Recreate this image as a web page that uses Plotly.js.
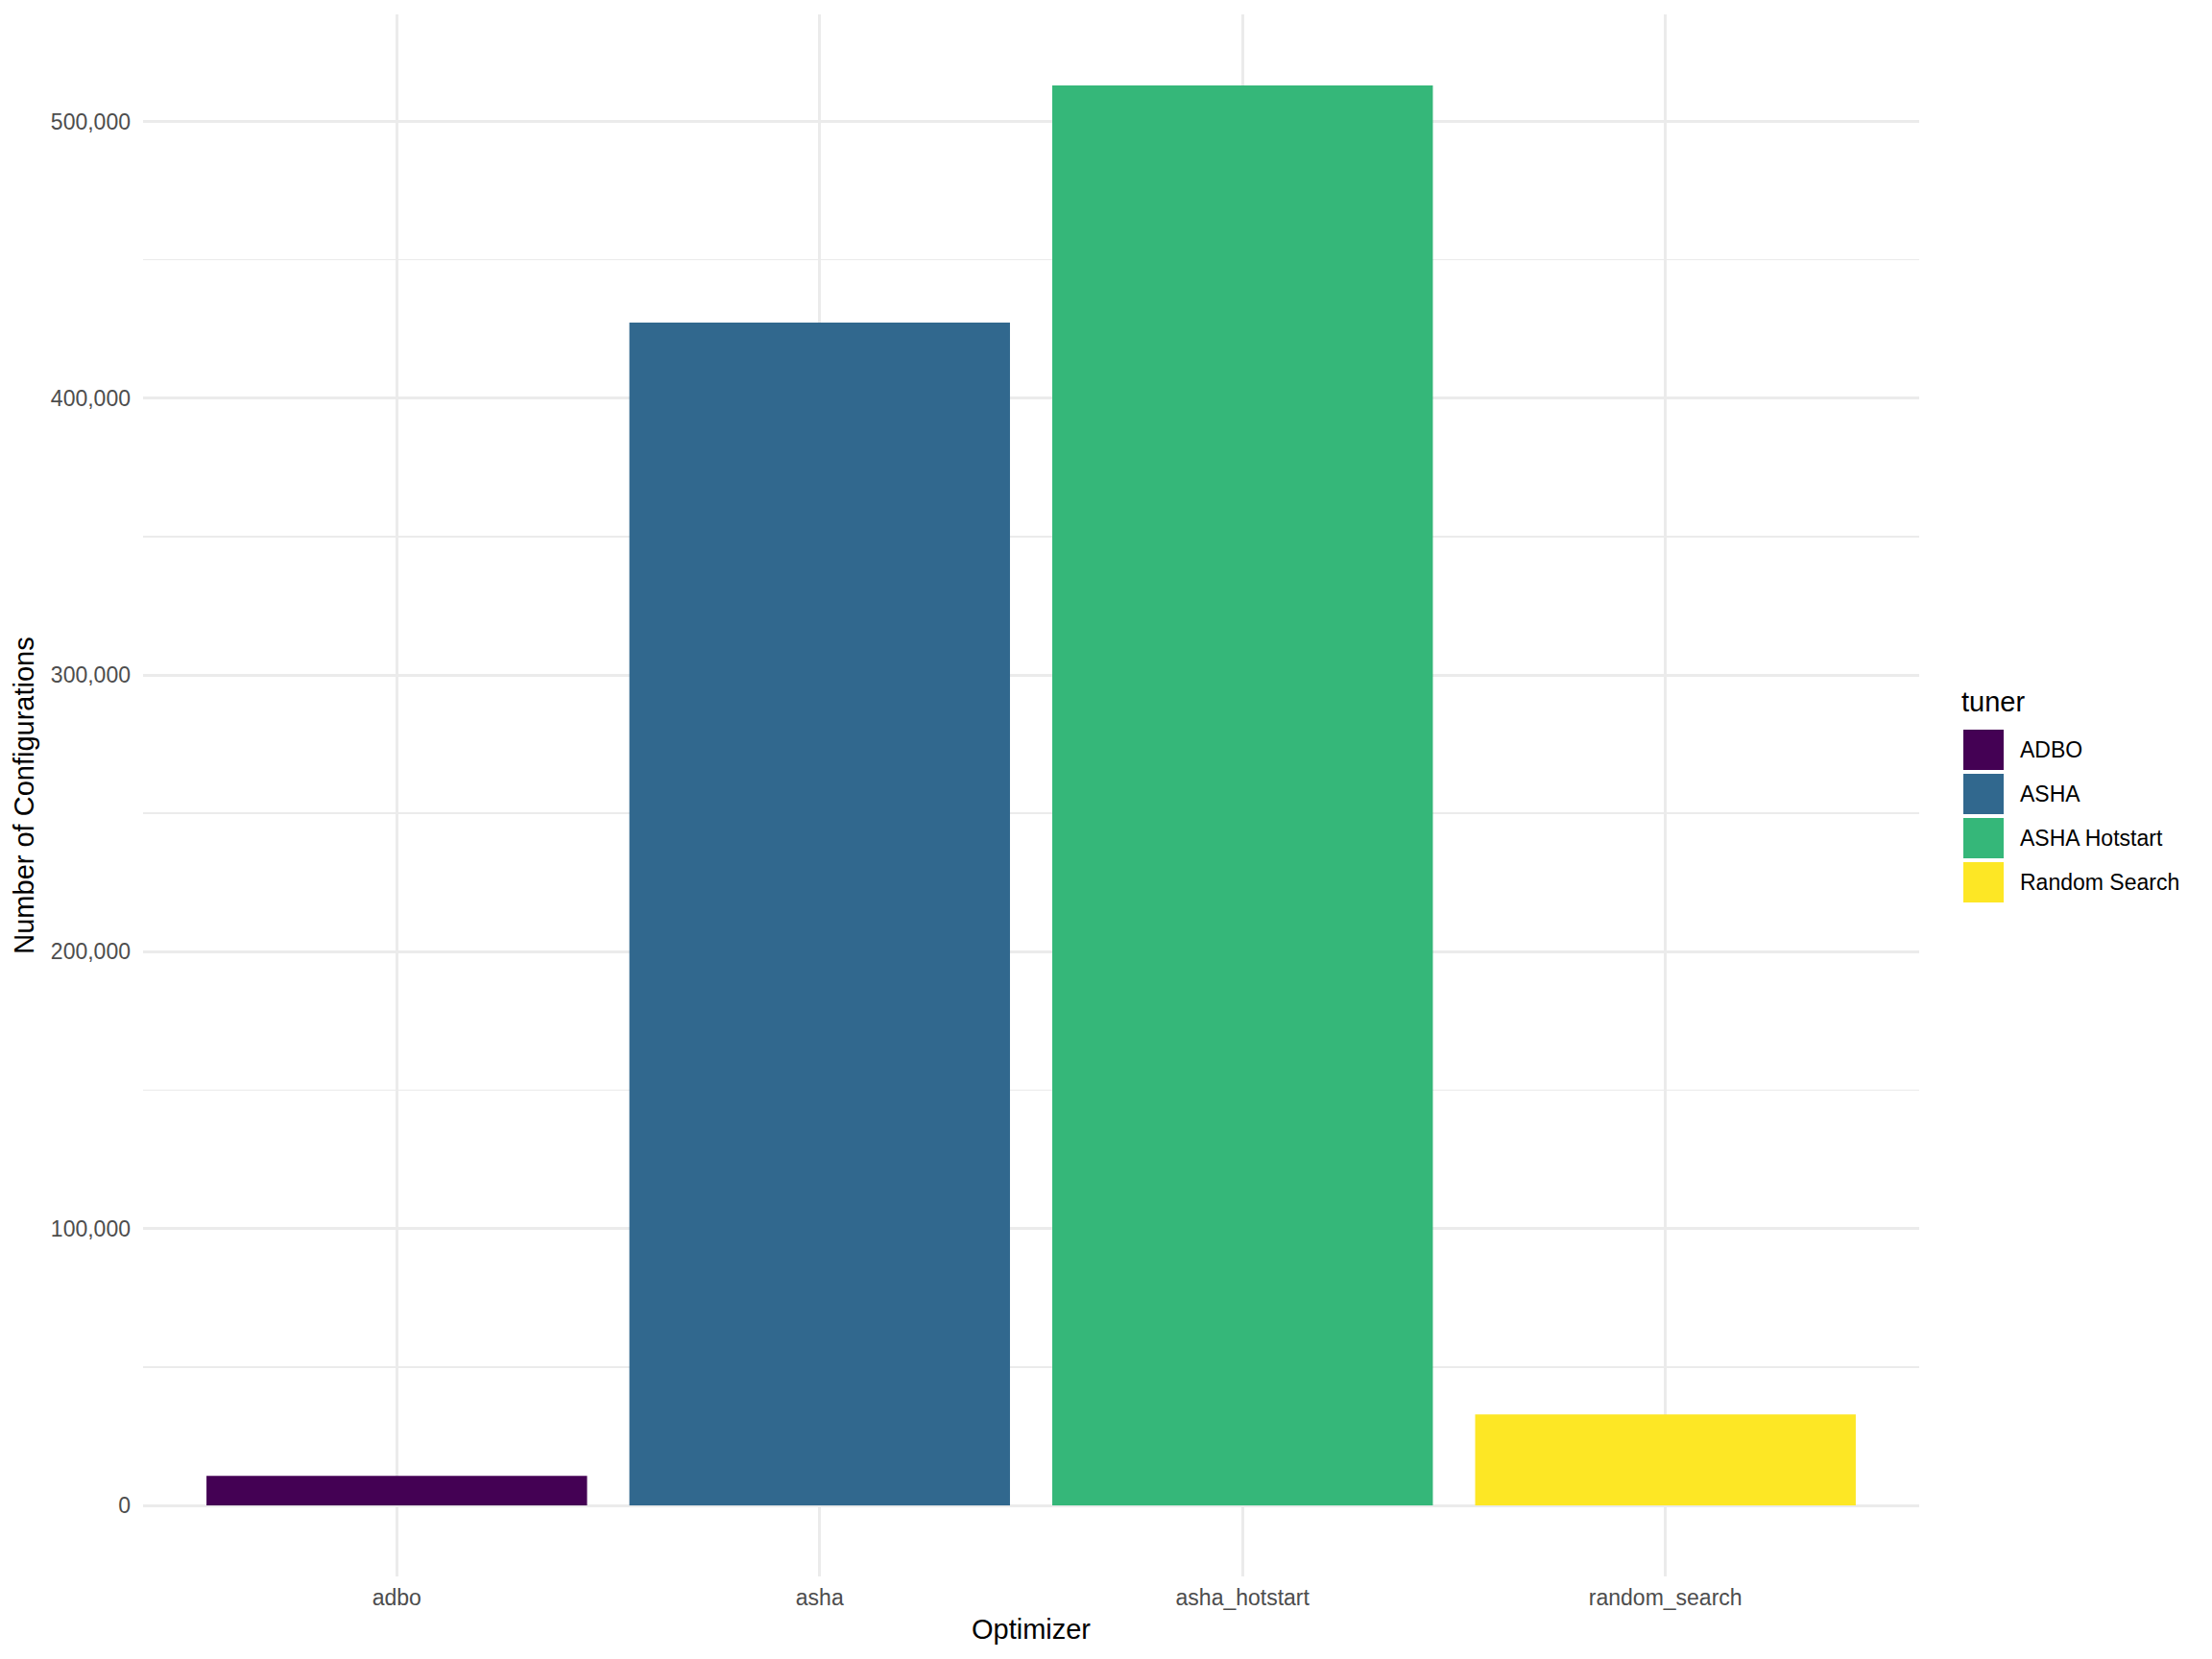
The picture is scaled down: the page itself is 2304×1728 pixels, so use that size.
<!DOCTYPE html>
<html>
<head>
<meta charset="utf-8">
<script src="https://cdn.plot.ly/plotly-3.0.1.min.js"></script>
<style>
  html, body { margin: 0; padding: 0; background: #ffffff; }
  #chart { width: 2304px; height: 1728px; }
</style>
</head>
<body>
<div id="chart"></div>
<script>
// ---- data ----
const optimizers = ["adbo", "asha", "asha_hotstart", "random_search"];
const tuners = ["ADBO", "ASHA", "ASHA Hotstart", "Random Search"];
const configCounts = [10650, 427300, 513000, 32890];
const tunerColors = ["#440154", "#31688E", "#35B779", "#FDE725"];

// ---- layout geometry (pixels) ----
const W = 2304, H = 1728;
const M = { l: 149, r: 305, t: 15, b: 86 };
const PW = W - M.l - M.r, PH = H - M.t - M.b;
const px2x = px => (px - M.l) / PW;
const px2y = py => (H - M.b - py) / PH;

const maxVal = Math.max(...configCounts);
const yPad = maxVal * 0.05;

const FONT = "Liberation Sans, Arial, Helvetica, sans-serif";

const trace = {
  type: "bar",
  x: optimizers,
  y: configCounts,
  text: tuners,
  marker: { color: tunerColors, line: { width: 0 } },
  width: 0.9,
  hoverinfo: "x+y+text",
  showlegend: false,
  textposition: "none"
};

// manual legend (ggplot-style large keys)
const shapes = [];
const annotations = [];
const keyX0 = 2045, keyX1 = 2087, keyTop = 760, keyH = 42, keyStep = 46;
tuners.forEach((name, i) => {
  const y0 = keyTop + i * keyStep;
  shapes.push({
    type: "rect", xref: "paper", yref: "paper",
    x0: px2x(keyX0), x1: px2x(keyX1),
    y0: px2y(y0 + keyH), y1: px2y(y0),
    fillcolor: tunerColors[i], line: { width: 0 }, layer: "above"
  });
  annotations.push({
    xref: "paper", yref: "paper",
    x: px2x(2102), y: px2y(y0 + keyH / 2),
    xanchor: "left", yanchor: "middle",
    text: name, showarrow: false,
    font: { family: FONT, size: 23, color: "#000000" }
  });
});
annotations.push({
  xref: "paper", yref: "paper",
  x: px2x(2041), y: px2y(731),
  xanchor: "left", yanchor: "middle",
  text: "tuner", showarrow: false,
  font: { family: FONT, size: 29, color: "#000000" }
});

const layout = {
  width: W, height: H,
  margin: M,
  paper_bgcolor: "#ffffff",
  plot_bgcolor: "#ffffff",
  font: { family: FONT },
  showlegend: false,
  bargap: 0.1,
  xaxis: {
    type: "category",
    categoryorder: "array",
    categoryarray: optimizers,
    range: [-0.6, optimizers.length - 1 + 0.6],
    showgrid: true,
    gridcolor: "#EBEBEB",
    gridwidth: 3,
    zeroline: false,
    showline: false,
    ticks: "",
    ticklabelstandoff: 6,
    tickfont: { family: FONT, size: 23, color: "#4D4D4D" },
    title: { text: "Optimizer", font: { family: FONT, size: 29, color: "#000000" }, standoff: 10 }
  },
  yaxis: {
    range: [-yPad, maxVal + yPad],
    dtick: 100000,
    tick0: 0,
    tickformat: ",d",
    showgrid: true,
    gridcolor: "#EBEBEB",
    gridwidth: 3,
    minor: { dtick: 50000, tick0: 0, showgrid: true, gridcolor: "#EBEBEB", gridwidth: 1.5, ticks: "" },
    zeroline: false,
    showline: false,
    ticks: "",
    ticklabelstandoff: 12,
    tickfont: { family: FONT, size: 23, color: "#4D4D4D" },
    title: { text: "Number of Configurations", font: { family: FONT, size: 29, color: "#000000" }, standoff: 8 }
  },
  shapes: shapes,
  annotations: annotations
};

Plotly.newPlot("chart", [trace], layout, { displayModeBar: false, staticPlot: true });
</script>
</body>
</html>
